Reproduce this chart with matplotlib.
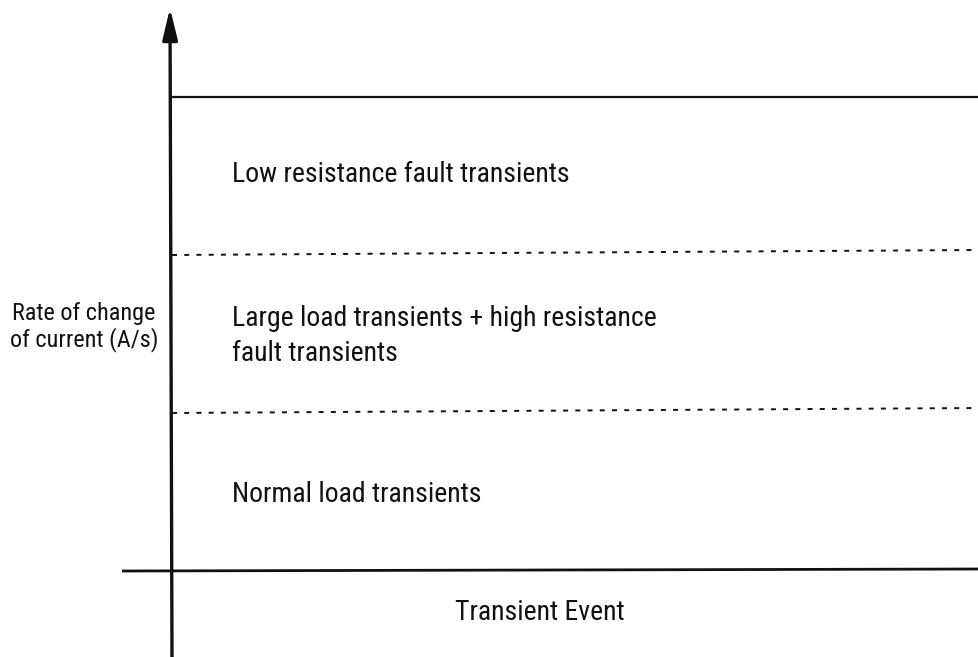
import matplotlib
matplotlib.use("Agg")
import matplotlib.pyplot as plt

# condensed grotesque, close to the Arial Narrow look of the scan
plt.rcParams["font.family"] = ["Roboto Condensed", "DejaVu Sans"]
plt.rcParams["lines.scale_dashes"] = False

# chart content
band_labels = [
    "Low resistance fault transients",
    "Large load transients + high resistance\nfault transients",
    "Normal load transients",
]
# boundaries between the bands (left end, right end), top one solid
bound_left = [97, 255, 413]
bound_right = [97, 250, 408]
bound_style = ["solid", "dashed", "dashed"]
y_label = "Rate of change\nof current (A/s)"
x_label = "Transient Event"

W, H = 979, 657
fig = plt.figure(figsize=(W / 100, H / 100), dpi=100)
ax = fig.add_axes([0, 0, 1, 1])
ax.set_xlim(0, W)
ax.set_ylim(H, 0)
ax.axis("off")

ink = "#111111"
x0 = 172   # where the vertical axis sits

# vertical axis with arrow head
ax.annotate("", xy=(x0 - 2, 8), xytext=(x0, H + 2),
            arrowprops=dict(arrowstyle="-|>,head_length=1.0,head_width=0.24",
                            mutation_scale=19, lw=2.4, color=ink,
                            shrinkA=0, shrinkB=0))
# horizontal axis
ax.plot([122, W], [571, 569], color=ink, lw=2.0, solid_capstyle="butt")

# band boundaries
for yl, yr, st in zip(bound_left, bound_right, bound_style):
    if st == "solid":
        ax.plot([x0, W], [yl, yr], color=ink, lw=1.6)
    else:
        ax.plot([x0, W], [yl, yr], color=ink, lw=1.4, dashes=(3.6, 5.2))

# band texts
txt_kw = dict(fontsize=20, color=ink, ha="left", va="baseline")
ax.text(232, 182, band_labels[0], **txt_kw)
ax.text(232, 361, band_labels[1], linespacing=1.38, **txt_kw)
ax.text(232, 502, band_labels[2], **txt_kw)

ax.text(84, 346, y_label, fontsize=17.5, color=ink, ha="center", va="baseline",
        multialignment="center", linespacing=1.1)
ax.text(455, 620, x_label, fontsize=20, color=ink, ha="left", va="baseline")

fig.savefig("out.png", dpi=100, facecolor="white")
